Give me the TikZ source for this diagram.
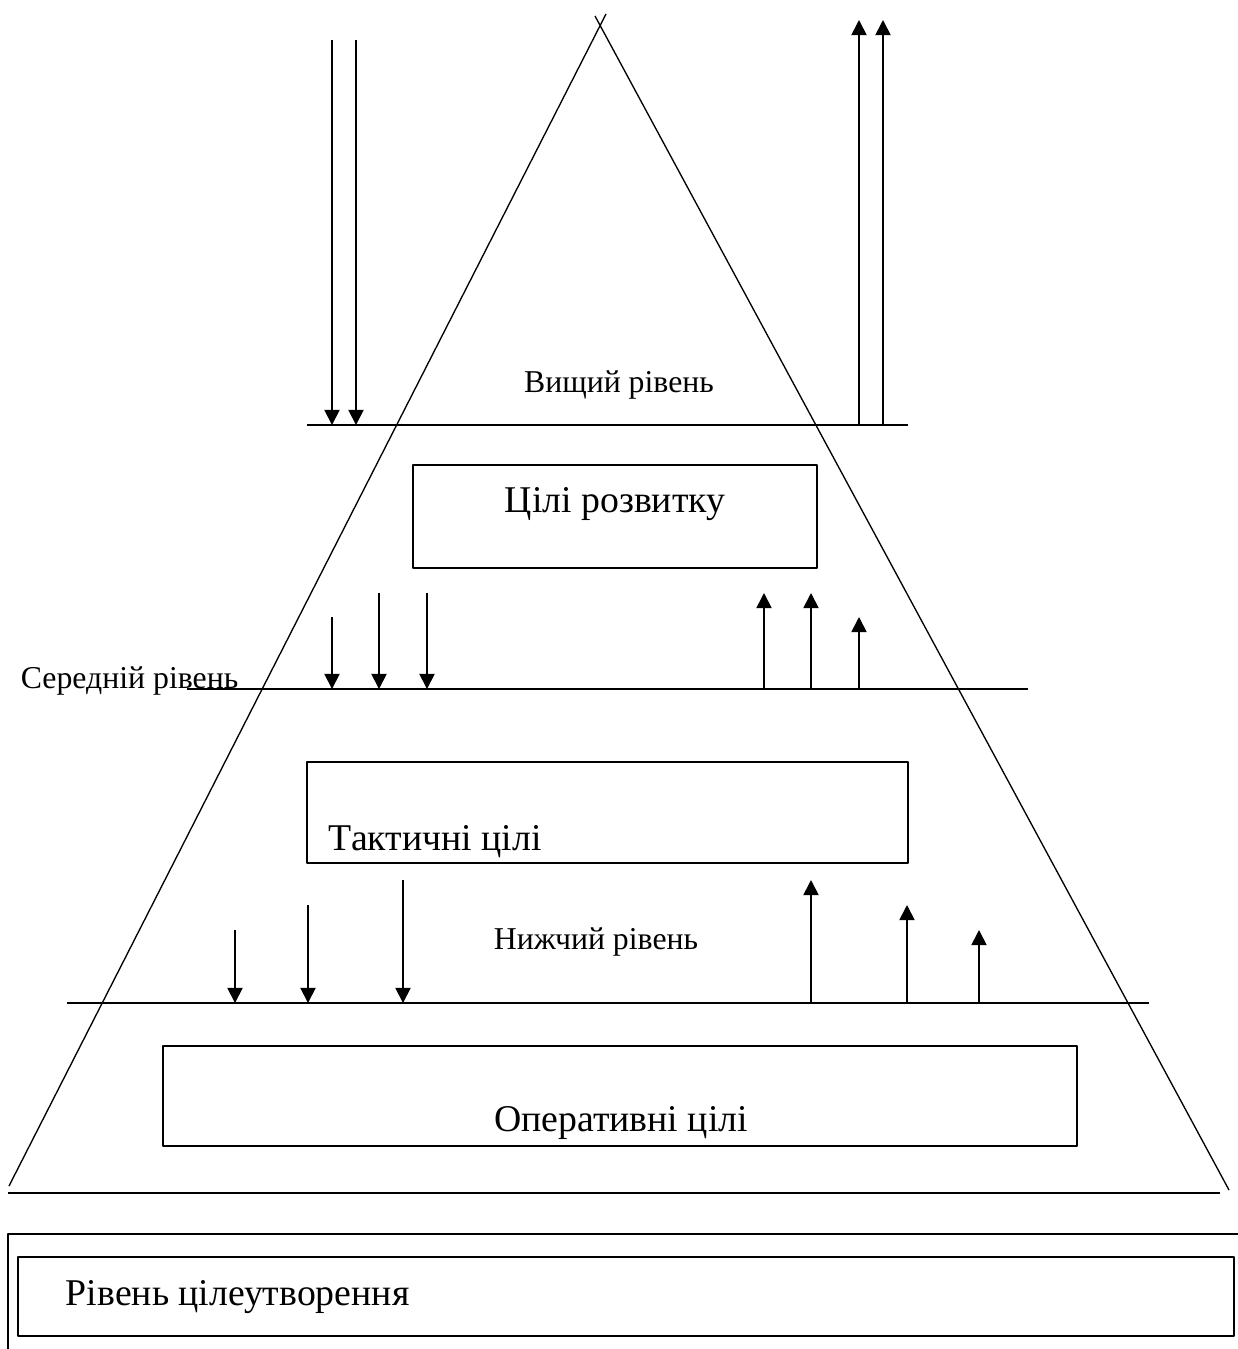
\documentclass[tikz,border=0pt]{standalone}
\usepackage{fontspec}
\setmainfont{Liberation Serif}
\usetikzlibrary{arrows.meta}
\tikzset{>={Triangle[length=6.8pt,width=6.8pt]}}
\tikzset{
  lvl/.style={font=\fontsize{14.3}{17}\selectfont, inner sep=0pt},
  goal/.style={font=\fontsize{17}{20}\selectfont, inner sep=0pt}
}

\begin{document}
\begin{tikzpicture}[x=0.45pt, y=-0.45pt, line width=0.8pt, line join=round]
    \useasboundingbox (0,0) rectangle (1238,1349);
    % pyramid sides, crossing at the top
    \draw[line width=0.6pt] (9,1186) -- (606,14);
    \draw[line width=0.6pt] (595,16) -- (1229,1190);
    % level lines
    \draw (307,425) -- (908,425);
    \draw (187,689) -- (1028,689);
    \draw (67,1003) -- (1149,1003);
    \draw (8,1193) -- (1220,1193);
    % goal boxes
    \draw (413,465) rectangle (817,568);
    \draw (307,762) rectangle (908,863);
    \draw (163,1046) rectangle (1077,1146);
    % flows down and up between levels
    \foreach \x/\y in {332/40, 356/40} \draw[->] (\x,\y) -- (\x,425);
    \foreach \x/\y in {859/20, 883/20} \draw[->] (\x,425) -- (\x,\y);
    \foreach \x/\y in {332/617, 379/593, 427/593} \draw[->] (\x,\y) -- (\x,689);
    \foreach \x/\y in {764/593, 811/593, 859/617} \draw[->] (\x,689) -- (\x,\y);
    \foreach \x/\y in {235/930, 308/905, 403/880} \draw[->] (\x,\y) -- (\x,1003);
    \foreach \x/\y in {811/880, 907/905, 979/930} \draw[->] (\x,1003) -- (\x,\y);
    % labels
    \node[lvl, anchor=base] (high) at (619,392) {Вищий рівень};
    \node[lvl, anchor=base west] (mid) at (20,688) {Середній рівень};
    \node[lvl, anchor=base] (low) at (596,949) {Нижчий рівень};
    \node[goal, anchor=base] (dev) at (615,512) {Цілі розвитку};
    \node[goal, anchor=base west] (tact) at (328,850) {Тактичні цілі};
    \node[goal, anchor=base] (oper) at (621,1131) {Оперативні цілі};
    % bottom frame
    \draw (8,1349) -- (8,1234) -- (1238,1234);
    \draw (18,1257) rectangle (1234,1336);
    \node[goal, anchor=base west] (form) at (65,1305) {Рівень цілеутворення};
\end{tikzpicture}
\end{document}
